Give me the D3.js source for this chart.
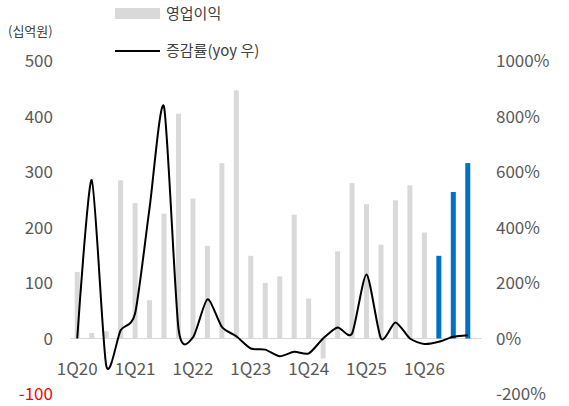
<!DOCTYPE html>
<html><head><meta charset="utf-8">
<script src="https://cdn.jsdelivr.net/npm/d3@7"></script>
<style>body{margin:0;background:#fff}text{font-family:"Malgun Gothic","Noto Sans CJK KR",sans-serif}</style>
</head><body><svg id="c" width="569" height="406"></svg>
<script>
var quarters = [];
['20','21','22','23','24','25','26'].forEach(function(y){ for(var q=1;q<=4;q++) quarters.push(q+'Q'+y); });
var profit = [120,10,13,285,244,69,225,405,252,167,316,447,149,100,112,223,72,-36,157,280,242,169,249,276,191,149,264,316];
var growth = [0,571,-96,30,90,470,835,36,4,141,42,8,-36,-40,-64,-48,-54,0,40,18,231,0,58,0,-20,-12,6,12];
var estStart = 25; // forecasts from 2Q26
var leftTicks = [-100,0,100,200,300,400,500];
var rightTicks = [-200,0,200,400,600,800,1000];

var svg = d3.select('#c');
var x = d3.scaleBand().domain(quarters).range([70,475]);
var y = d3.scaleLinear().domain([-100,500]).range([394,61]);
var y2 = d3.scaleLinear().domain([-200,1000]).range([394,61]);
var cx = function(d){ return x(d) + x.bandwidth()/2; };

// zero line
svg.append('line').attr('x1',70).attr('x2',482).attr('y1',y(0)).attr('y2',y(0)).attr('stroke','#d9d9d9').attr('stroke-width',1);

svg.selectAll('rect.bar').data(profit).enter().append('rect')
  .attr('x', function(d,i){ return cx(quarters[i]) - 2.5; })
  .attr('width', 5)
  .attr('y', function(d){ return y(Math.max(0,d)); })
  .attr('height', function(d){ return Math.abs(y(d)-y(0)); })
  .attr('fill', function(d,i){ return i>=estStart ? '#0070c0' : '#d9d9d9'; });

var line = d3.line().x(function(d,i){ return cx(quarters[i]); }).y(function(d){ return y2(d); }).curve(d3.curveCardinal.tension(0.3));
svg.append('path').datum(growth).attr('d', line).attr('fill','none').attr('stroke','#000').attr('stroke-width',2);

// axes labels
svg.selectAll('text.l').data(leftTicks).enter().append('text')
  .attr('x',53).attr('y',function(d){ return y(d)+6; }).attr('text-anchor','end')
  .attr('font-size',17).attr('fill',function(d){ return d<0 ? '#ff0000' : '#595959'; })
  .text(function(d){ return d; });
svg.selectAll('text.r').data(rightTicks).enter().append('text')
  .attr('x',496).attr('y',function(d){ return y2(d)+6; })
  .attr('font-size',17).attr('fill','#595959')
  .text(function(d){ return d+'%'; });
svg.selectAll('text.x').data(quarters.filter(function(q){ return q[0]==='1'; })).enter().append('text')
  .attr('x',function(d){ return cx(d); }).attr('y',375).attr('text-anchor','middle')
  .attr('font-size',17).attr('fill','#595959').text(function(d){ return d; });

svg.append('text').attr('x',8).attr('y',36).attr('font-size',13).attr('fill','#404040').text('(십억원)');
// legend
svg.append('rect').attr('x',115).attr('y',8).attr('width',45).attr('height',11).attr('fill','#d9d9d9');
svg.append('text').attr('x',166).attr('y',19).attr('font-size',15).attr('fill','#404040').text('영업이익');
svg.append('line').attr('x1',115).attr('x2',160).attr('y1',51).attr('y2',51).attr('stroke','#000').attr('stroke-width',2);
svg.append('text').attr('x',166).attr('y',56).attr('font-size',15).attr('fill','#404040').text('증감률(yoy 우)');
</script></body></html>
